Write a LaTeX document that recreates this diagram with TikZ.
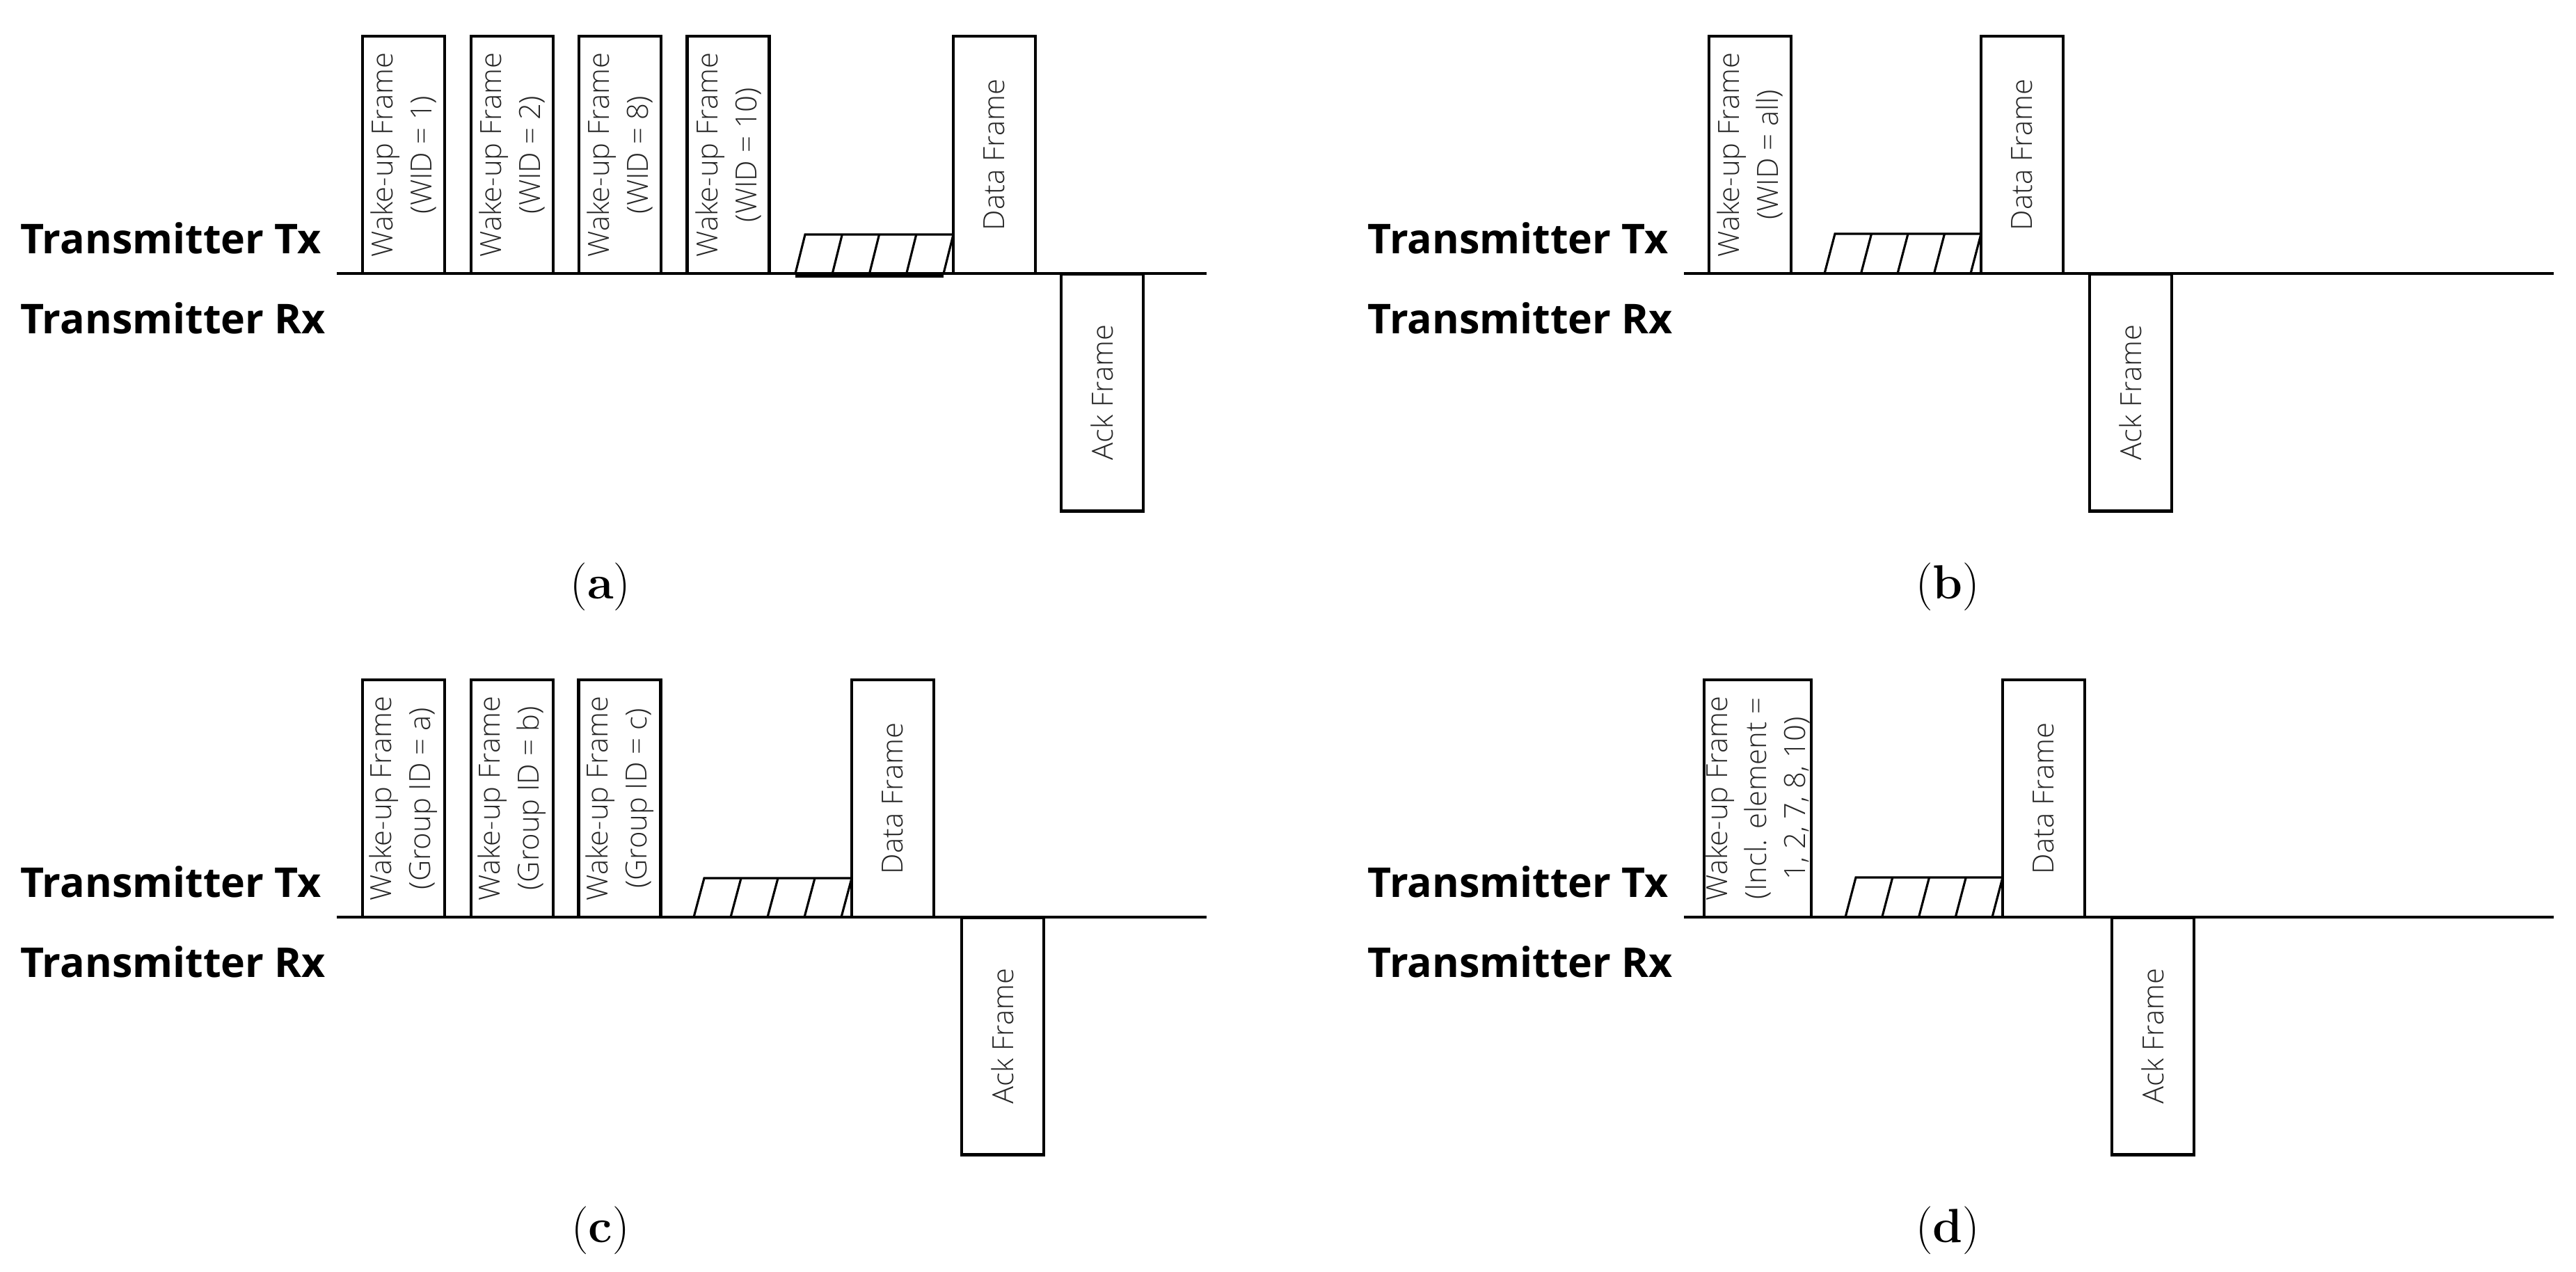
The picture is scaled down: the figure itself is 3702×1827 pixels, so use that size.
\documentclass[tikz,border=0pt]{standalone}
\usepackage{fontspec}
\usepackage{tikz}
\newfontfamily\osans{Open Sans}
\IfFontExistsTF{Open Sans Light}{\newfontfamily\osanslight{Open Sans Light}}{\newfontfamily\osanslight{Open Sans}}

\begin{document}
\begin{tikzpicture}[x=0.1mm,y=-0.1mm,
	frame/.style={draw,line width=1.2pt,rotate=90,align=center,inner sep=0pt,
		minimum width=34.1mm,minimum height=11.8mm,text=black!85,
		font=\osanslight\fontsize{11.9}{15.9}\selectfont},
	axis/.style={line width=1pt},
	hatch/.style={line width=0.9pt},
	rowlabel/.style={anchor=base west,inner sep=0pt,font=\osans\bfseries\fontsize{16.8}{20}\selectfont},
	caption/.style={inner sep=0pt,font=\fontsize{19.6}{22}\selectfont}]
	\useasboundingbox (0,0) rectangle (3702,1827);

	% (a)
	\node[rowlabel] (txa) at (29,364) {Transmitter Tx};
	\node[rowlabel] (rxa) at (29,479) {Transmitter Rx};
	\draw[axis] (484,393) -- (1734,393);
	\node[frame] (wa1) at (580,222.5) {Wake-up Frame\\(WID = 1)};
	\node[frame] (wa2) at (736,222.5) {Wake-up Frame\\(WID = 2)};
	\node[frame] (wa3) at (891,222.5) {Wake-up Frame\\(WID = 8)};
	\node[frame] (wa4) at (1046.5,222.5) {Wake-up Frame\\(WID = 10)};
	\draw[hatch] (1143,393) -- (1157,337) -- (1370,337);
	\draw[hatch] (1196.25,393) -- (1210.25,337) (1249.5,393) -- (1263.5,337) (1302.75,393) -- (1316.75,337) (1356,393) -- (1370,337);
	\draw[line width=2pt] (1143,395) -- (1356,395);
	\node[frame] (da) at (1429,222.5) {Data Frame};
	\node[frame] (ka) at (1584,564) {Ack Frame};
	\node[caption] (capa) at (863,843) {(\textbf{a})};

	% (b)
	\begin{scope}[shift={(1936,0)}]
	\node[rowlabel] (txb) at (29,364) {Transmitter Tx};
	\node[rowlabel] (rxb) at (29,479) {Transmitter Rx};
	\draw[axis] (484,393) -- (1734,393);
	\node[frame] (wb1) at (579,222.5) {Wake-up Frame\\(WID = all)};
	\draw[hatch] (686,393) -- (701,336) -- (911,336);
	\draw[hatch] (738.5,393) -- (753.5,336) (791,393) -- (806,336) (843.5,393) -- (858.5,336) (896,393) -- (911,336);
	\node[frame] (db) at (970,222.5) {Data Frame};
	\node[frame] (kb) at (1126,564) {Ack Frame};
	\node[caption] (capb) at (863,843) {(\textbf{b})};
	\end{scope}

	% (c)
	\begin{scope}[shift={(0,925)}]
	\node[rowlabel] (txc) at (29,364) {Transmitter Tx};
	\node[rowlabel] (rxc) at (29,479) {Transmitter Rx};
	\draw[axis] (484,393) -- (1734,393);
	\node[frame] (wc1) at (580,222.5) {Wake-up Frame\\(Group ID = a)};
	\node[frame] (wc2) at (736,222.5) {Wake-up Frame\\(Group ID = b)};
	\node[frame] (wc3) at (890.5,222.5) {Wake-up Frame\\(Group ID = c)};
	\draw[hatch] (997,393) -- (1012,337) -- (1224,337);
	\draw[hatch] (1050,393) -- (1065,337) (1103,393) -- (1118,337) (1156,393) -- (1171,337) (1209,393) -- (1224,337);
	\node[frame] (dc) at (1283,222.5) {Data Frame};
	\node[frame] (kc) at (1441,564) {Ack Frame};
	\node[caption] (capc) at (863,843) {(\textbf{c})};
	\end{scope}

	% (d)
	\begin{scope}[shift={(1936,925)}]
	\node[rowlabel] (txd) at (29,364) {Transmitter Tx};
	\node[rowlabel] (rxd) at (29,479) {Transmitter Rx};
	\draw[axis] (484,393) -- (1734,393);
	\node[frame,minimum height=15.4mm] (wd1) at (590,222.5) {Wake-up Frame\\(Incl. element =\\1, 2, 7, 8, 10)};
	\draw[hatch] (716,393) -- (731,336) -- (942,336);
	\draw[hatch] (768.75,393) -- (783.75,336) (821.5,393) -- (836.5,336) (874.25,393) -- (889.25,336) (927,393) -- (942,336);
	\node[frame] (dd) at (1001,222.5) {Data Frame};
	\node[frame] (kd) at (1158,564) {Ack Frame};
	\node[caption] (capd) at (863,843) {(\textbf{d})};
	\end{scope}
\end{tikzpicture}
\end{document}
